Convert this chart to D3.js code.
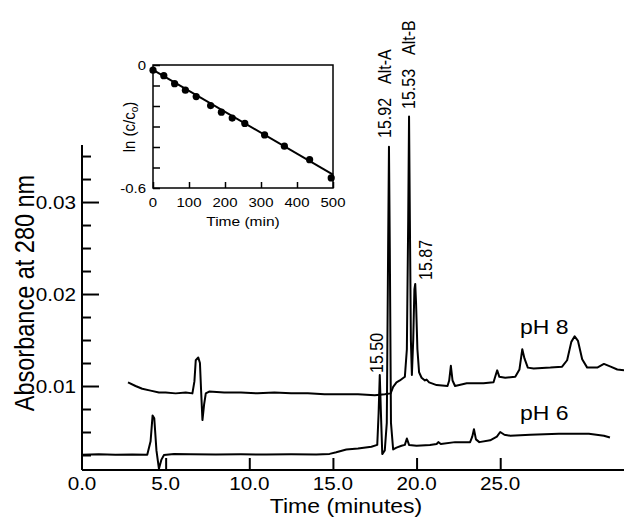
<!DOCTYPE html>
<html><head><meta charset="utf-8">
<script src="https://cdn.jsdelivr.net/npm/d3@7"></script>
<style>
body{margin:0;background:#fff}
svg{display:block}
text{font-family:"Liberation Sans",Arial,Helvetica,sans-serif;fill:#000}
</style>
</head><body>
<svg id="chart" width="624" height="519"></svg>
<script>
// ---- main chromatogram data (time in minutes, absorbance at 280 nm) ----
const ph8Time = [2.75,3.2,3.6,4.1,4.6,5.0,5.6,6.2,6.6,6.72,6.8,6.95,7.05,7.12,7.2,7.3,7.4,7.6,8.5,9.5,10.5,11.5,12.5,13.5,14.5,15.5,16.5,17.5,18.1,18.45,18.6,18.8,19.0,19.3,19.42,19.5,19.55,19.6,19.66,19.72,19.8,19.87,19.92,19.97,20.05,20.15,20.3,20.5,20.6,20.75,21.2,21.85,21.95,22.05,22.15,22.3,23.0,24.0,24.6,24.75,24.82,24.95,25.3,25.9,26.15,26.32,26.45,26.65,27.0,28.0,28.7,29.0,29.25,29.45,29.65,29.9,30.2,30.8,31.2,31.6,32.0,32.4];
const ph8Abs  = [0.0104,0.0100,0.0097,0.0095,0.0093,0.0093,0.0092,0.0093,0.0092,0.0105,0.0128,0.0131,0.0125,0.0095,0.0063,0.0080,0.0092,0.0094,0.0093,0.0093,0.0092,0.0093,0.0092,0.0092,0.0091,0.0091,0.0091,0.0090,0.0091,0.0092,0.0099,0.0104,0.0106,0.0110,0.0140,0.0280,0.0393,0.0280,0.0150,0.0112,0.0150,0.0205,0.0211,0.0190,0.0140,0.0115,0.0109,0.0106,0.0107,0.0104,0.0101,0.0100,0.0106,0.0122,0.0106,0.0100,0.0103,0.0103,0.0104,0.0113,0.0117,0.0110,0.0109,0.0110,0.0118,0.0140,0.0130,0.0120,0.0119,0.0120,0.0121,0.0128,0.0148,0.0154,0.0149,0.0129,0.0120,0.0120,0.0124,0.0121,0.0118,0.0117];
const ph6Time = [0,1,2,3,3.9,4.1,4.22,4.32,4.45,4.6,4.75,4.9,5.5,6.5,8,9.5,11,12.5,14,14.8,15.2,15.8,16.5,17.3,17.65,17.73,17.8,17.87,17.95,18.1,18.22,18.3,18.35,18.4,18.47,18.6,18.8,19.1,19.3,19.42,19.55,20.0,20.8,21.2,21.3,21.45,22.3,23.2,23.33,23.43,23.55,23.75,24.4,24.8,25.0,25.25,25.6,26.8,28.5,30.3,31.2,31.56];
const ph6Abs  = [0.00254,0.00258,0.00252,0.00256,0.00254,0.0040,0.0068,0.0065,0.0030,0.0010,0.0020,0.0025,0.00262,0.00258,0.00256,0.00258,0.00255,0.00258,0.00256,0.00262,0.0028,0.0031,0.0032,0.0034,0.0036,0.0070,0.0112,0.0070,0.0026,0.0030,0.0060,0.0250,0.0360,0.0250,0.0060,0.0031,0.0033,0.0035,0.0036,0.0043,0.0036,0.0035,0.0036,0.0037,0.0039,0.0037,0.0039,0.0039,0.0045,0.0053,0.0042,0.0039,0.0041,0.0045,0.0050,0.0047,0.0046,0.0047,0.0048,0.0048,0.0046,0.0044];
const xTickValues = [0,5,10,15,20,25];
const yMajorTicks = [0.01,0.02,0.03];
const yMinorTicks = [0.0025,0.005,0.0075,0.0125,0.015,0.0175,0.0225,0.025,0.0275,0.0325,0.035];
const peakNumbers = ["15.50","15.92","15.53","15.87"];
const peakNames   = ["","Alt-A","Alt-B",""];
const traceLabels = ["pH 8","pH 6"];

// ---- inset data (time in min, ln(c/co)) ----
const insetTime = [0,30,60,90,120,160,190,220,255,310,365,435,495];
const insetLn   = [-0.025,-0.052,-0.091,-0.123,-0.154,-0.198,-0.230,-0.259,-0.285,-0.341,-0.396,-0.462,-0.551];
const fitTime = [0,500];
const fitLn   = [-0.024,-0.535];
const insetXTicks = [0,100,200,300,400,500];
const insetYTicks = [0,-0.1,-0.2,-0.3,-0.4,-0.5,-0.6];

const SX = 1.15; // horizontal stretch of lettering in the original
const svg = d3.select("#chart");

function txt(parent, x, y, str, size, anchor, rotate) {
  const g = parent.append("g")
    .attr("transform", `translate(${x},${y}) scale(${SX},1)` + (rotate ? " rotate(-90)" : ""));
  return g.append("text").attr("font-size", size).attr("text-anchor", anchor || "start").text(str);
}

// main scales
const x = d3.scaleLinear().domain([0, 32.4]).range([82, 624]);
const y = d3.scaleLinear().domain([0.00087, 0.0362]).range([470, 145]);

// axes
const gx = svg.append("g").attr("transform", "translate(0,470)")
  .call(d3.axisBottom(x).tickValues(xTickValues.filter(d => d > 0)).tickSize(-12).tickSizeOuter(0).tickFormat(""));
const gyMinor = svg.append("g").attr("transform", "translate(82,0)")
  .call(d3.axisLeft(y).tickValues(yMinorTicks).tickSize(-9).tickSizeOuter(0).tickFormat(""));
gyMinor.select(".domain").remove();
const gy = svg.append("g").attr("transform", "translate(82,0)")
  .call(d3.axisLeft(y).tickValues(yMajorTicks).tickSize(-17).tickSizeOuter(0).tickFormat(""));
svg.selectAll(".domain, .tick line").attr("stroke", "#000").attr("stroke-width", 2);
gx.select(".domain").attr("d", `M${x.range()[0]},0H${x.range()[1]}`);
gy.select(".domain").attr("d", `M0,${y.range()[0]}V${y.range()[1]}`);

xTickValues.forEach(v => txt(svg, x(v), 490, v.toFixed(1), 18, "middle"));
yMajorTicks.forEach(v => txt(svg, 76, y(v) + 6.5, v.toFixed(2), 18, "end"));
txt(svg, 346, 513, "Time (minutes)", 20, "middle");
txt(svg, 34, 293, "Absorbance at 280 nm", 23.5, "middle", true);

// traces
const line = d3.line().x(d => x(d[0])).y(d => y(d[1]));
const ph8 = ph8Time.map((t, i) => [t, ph8Abs[i]]);
const ph6 = ph6Time.map((t, i) => [t, ph6Abs[i]]);
[ph8, ph6].forEach(d => svg.append("path").datum(d).attr("d", line)
  .attr("fill", "none").attr("stroke", "#000").attr("stroke-width", 2).attr("stroke-linejoin", "round"));

// peak labels
const peakLabelPos = [[383, 373], [391, 138], [415, 109], [432, 280]];
peakNumbers.forEach((s, i) => {
  const t = txt(svg, peakLabelPos[i][0], peakLabelPos[i][1], s, 16, "start", true);
  if (peakNames[i]) t.append("tspan").attr("dx", 14).text(peakNames[i]);
});
txt(svg, 520, 334, traceLabels[0], 20, "start");
txt(svg, 520, 420, traceLabels[1], 20, "start");

// inset
const ix = d3.scaleLinear().domain([0, 500]).range([153, 333]);
const iy = d3.scaleLinear().domain([0, -0.6]).range([65, 188]);
const inset = svg.append("g");
inset.append("rect").attr("x", 153).attr("y", 65).attr("width", 180).attr("height", 123)
  .attr("fill", "#fff").attr("stroke", "#000").attr("stroke-width", 1.5);
inset.append("g").attr("transform", "translate(0,188)")
  .call(d3.axisBottom(ix).tickValues(insetXTicks).tickSize(-6).tickSizeOuter(0).tickFormat(""));
inset.append("g").attr("transform", "translate(153,0)")
  .call(d3.axisLeft(iy).tickValues(insetYTicks).tickSize(-7).tickSizeOuter(0).tickFormat(""));
inset.selectAll(".domain").remove();
inset.selectAll(".tick line").attr("stroke", "#000").attr("stroke-width", 1.5);
insetXTicks.forEach(v => txt(inset, ix(v), 207, String(v), 13, "middle"));
[0, -0.6].forEach(v => txt(inset, 146, iy(v) + 5, String(v), 13, "end"));
txt(inset, 243, 226, "Time (min)", 13.5, "middle");
const lnT = txt(inset, 135, 127, "ln (c/c", 15, "middle", true);
lnT.append("tspan").attr("font-size", 10).attr("dy", 3).text("o");
lnT.append("tspan").attr("dy", -3).text(")");
const fit = fitTime.map((t, i) => [t, fitLn[i]]);
inset.append("path").datum(fit).attr("d", d3.line().x(d => ix(d[0])).y(d => iy(d[1])))
  .attr("stroke", "#000").attr("stroke-width", 2).attr("fill", "none");
inset.selectAll("circle.pt").data(insetTime.map((t, i) => [t, insetLn[i]])).enter()
  .append("circle").attr("class", "pt").attr("cx", d => ix(d[0])).attr("cy", d => iy(d[1])).attr("r", 3.6).attr("fill", "#000");
</script>
</body></html>
